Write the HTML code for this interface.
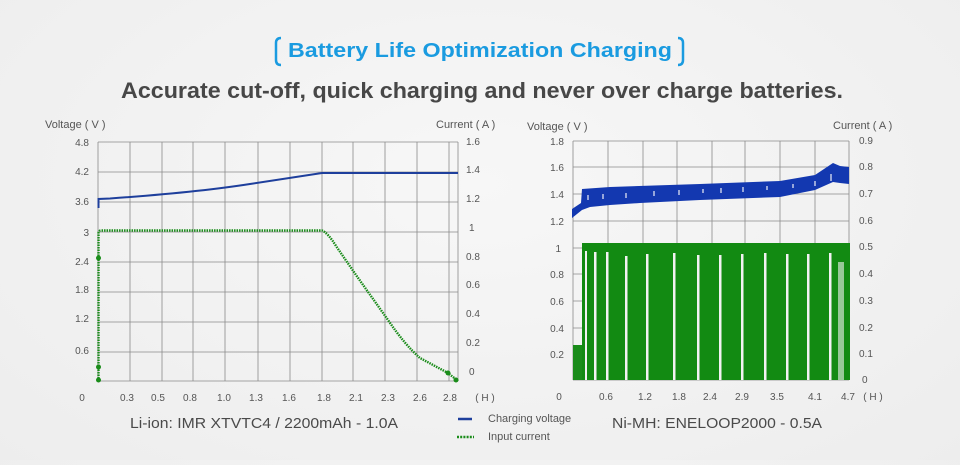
<!DOCTYPE html>
<html><head><meta charset="utf-8"><style>
html,body{margin:0;padding:0;}
body{width:960px;height:460px;overflow:hidden;background:radial-gradient(ellipse at 50% 40%,#f7f7f7 0%,#ededed 100%);font-family:"Liberation Sans",sans-serif;}
</style></head><body>
<svg width="960" height="460" viewBox="0 0 960 460" xmlns="http://www.w3.org/2000/svg" font-family="Liberation Sans, sans-serif">
<!-- header -->
<path d="M281 38 Q276 38 276 43 L276 60 Q276 65 281 65" fill="none" stroke="#1a9be0" stroke-width="2.5"/>
<path d="M678 38 Q683 38 683 43 L683 60 Q683 65 678 65" fill="none" stroke="#1a9be0" stroke-width="2.5"/>
<text x="480" y="57" text-anchor="middle" font-size="20" font-weight="bold" fill="#1a9be0" textLength="384" lengthAdjust="spacingAndGlyphs">Battery Life Optimization Charging</text>
<text x="482" y="98" text-anchor="middle" font-size="22" font-weight="bold" fill="#474747" textLength="722" lengthAdjust="spacingAndGlyphs">Accurate cut-off, quick charging and never over charge batteries.</text>

<!-- LEFT CHART -->
<g stroke="#8a8a8a" stroke-width="0.8" fill="none">
<path d="M98 142V381M130 142V381M162 142V381M193 142V381M225 142V381M258 142V381M290 142V381M322 142V381M353 142V381M385 142V381M417 142V381M449 142V381M458 142V381"/>
<path d="M98 142H458M98 172H458M98 202H458M98 232H458M98 262H458M98 292H458M98 322H458M98 352H458M98 381H458"/>
</g>
<g font-size="10" fill="#555">
<text x="45" y="128" font-size="11">Voltage ( V )</text>
<text x="436" y="128" font-size="11">Current ( A )</text>
<g text-anchor="end">
<text x="89" y="146">4.8</text><text x="89" y="175">4.2</text><text x="89" y="205">3.6</text><text x="89" y="236">3</text><text x="89" y="265">2.4</text><text x="89" y="293">1.8</text><text x="89" y="322">1.2</text><text x="89" y="354">0.6</text>
</g>
<g>
<text x="466" y="145">1.6</text><text x="466" y="173">1.4</text><text x="466" y="202">1.2</text><text x="469" y="231">1</text><text x="466" y="260">0.8</text><text x="466" y="288">0.6</text><text x="466" y="317">0.4</text><text x="466" y="346">0.2</text><text x="469" y="375">0</text>
</g>
<g text-anchor="middle">
<text x="82" y="401">0</text><text x="127" y="401">0.3</text><text x="158" y="401">0.5</text><text x="190" y="401">0.8</text><text x="224" y="401">1.0</text><text x="256" y="401">1.3</text><text x="289" y="401">1.6</text><text x="324" y="401">1.8</text><text x="356" y="401">2.1</text><text x="388" y="401">2.3</text><text x="420" y="401">2.6</text><text x="450" y="401">2.8</text><text x="485" y="401">( H )</text>
</g>
</g>
<path d="M98.5 208 L98.5 199 L110 198.5 Q200 192 250 184 L322 173 L458 173" fill="none" stroke="#1e3f9c" stroke-width="2"/>
<path d="M98.5 381 L98.5 233 Q98.5 230.5 101 230.5 L322 230.5 Q328 233 336 246 L356 275 L388 320 Q405 345 420 358 L448 373 L458 381" fill="none" stroke="#1a8c1a" stroke-width="2.4" stroke-dasharray="1.5 1"/>
<g fill="#1a8c1a"><circle cx="98.5" cy="258" r="2.5"/><circle cx="98.5" cy="367" r="2.5"/><circle cx="98.5" cy="380" r="2.5"/><circle cx="448" cy="373" r="2.5"/><circle cx="456" cy="380" r="2.5"/></g>

<!-- RIGHT CHART -->
<g stroke="#8a8a8a" stroke-width="0.8" fill="none">
<path d="M573 141V380M608 141V380M643 141V380M677 141V380M712 141V380M745 141V380M780 141V380M815 141V380M849 141V380"/>
<path d="M573 141H849M573 167H849M573 194H849M573 221H849M573 248H849M573 274H849M573 301H849M573 328H849M573 354H849M573 380H849"/>
</g>
<!-- blue band -->
<path d="M572 209 L581 203 L582 189 L610 187 L700 184 L780 181 L815 175 L833 163 L840 166 L849 167 L849 184 L840 183 L833 182 L815 190 L780 197 L700 200 L640 203 L610 205 L590 207 L582 210 L572 218 Z" fill="#1338b0"/>
<g stroke="#eef0f6" stroke-width="1.2"><path d="M588 195V200M603 194V199M626 193V198M654 191V196M679 190V195M703 189V193M721 188V193M743 187V192M767 186V190M793 184V188M815 181V186M831 174V181"/></g>
<!-- green -->
<rect x="573" y="345" width="9" height="35" fill="#1a8c1a"/>
<rect x="582" y="243" width="268" height="137" fill="#128a12"/>
<g fill="#f2f2f2">
<rect x="585" y="251" width="2" height="129"/><rect x="594" y="252" width="2.5" height="128"/><rect x="606" y="252" width="2.5" height="128"/><rect x="625" y="256" width="2.5" height="124"/><rect x="646" y="254" width="2.5" height="126"/><rect x="673" y="253" width="2.5" height="127"/><rect x="697" y="255" width="2.5" height="125"/><rect x="719" y="255" width="2.5" height="125"/><rect x="741" y="254" width="2.5" height="126"/><rect x="764" y="253" width="2.5" height="127"/><rect x="786" y="254" width="2.5" height="126"/><rect x="807" y="254" width="2.5" height="126"/><rect x="829" y="253" width="2.5" height="127"/>
<rect x="838" y="262" width="6" height="118" opacity="0.6"/>
</g>
<g font-size="10" fill="#555">
<text x="527" y="130" font-size="11">Voltage ( V )</text>
<text x="833" y="129" font-size="11">Current ( A )</text>
<g text-anchor="end">
<text x="564" y="145">1.8</text><text x="564" y="171">1.6</text><text x="564" y="198">1.4</text><text x="564" y="225">1.2</text><text x="561" y="252">1</text><text x="564" y="278">0.8</text><text x="564" y="305">0.6</text><text x="564" y="332">0.4</text><text x="564" y="358">0.2</text>
</g>
<g>
<text x="859" y="144">0.9</text><text x="859" y="170">0.8</text><text x="859" y="197">0.7</text><text x="859" y="224">0.6</text><text x="859" y="250">0.5</text><text x="859" y="277">0.4</text><text x="859" y="304">0.3</text><text x="859" y="331">0.2</text><text x="859" y="357">0.1</text><text x="862" y="383">0</text>
</g>
<g text-anchor="middle">
<text x="559" y="400">0</text><text x="606" y="400">0.6</text><text x="645" y="400">1.2</text><text x="679" y="400">1.8</text><text x="710" y="400">2.4</text><text x="742" y="400">2.9</text><text x="777" y="400">3.5</text><text x="815" y="400">4.1</text><text x="848" y="400">4.7</text><text x="873" y="400">( H )</text>
</g>
</g>

<!-- bottom labels -->
<text x="130" y="428" font-size="15" fill="#4a4a4a" textLength="268" lengthAdjust="spacingAndGlyphs">Li-ion: IMR XTVTC4 / 2200mAh - 1.0A</text>
<text x="612" y="428" font-size="15" fill="#4a4a4a" textLength="210" lengthAdjust="spacingAndGlyphs">Ni-MH: ENELOOP2000 - 0.5A</text>
<path d="M458 419H472" stroke="#1e3f9c" stroke-width="2.5"/>
<path d="M457 437H474" stroke="#1a8c1a" stroke-width="2.5" stroke-dasharray="2 1.2"/>
<text x="488" y="422" font-size="11" fill="#555">Charging voltage</text>
<text x="488" y="440" font-size="11" fill="#555">Input current</text>
</svg>
</body></html>
